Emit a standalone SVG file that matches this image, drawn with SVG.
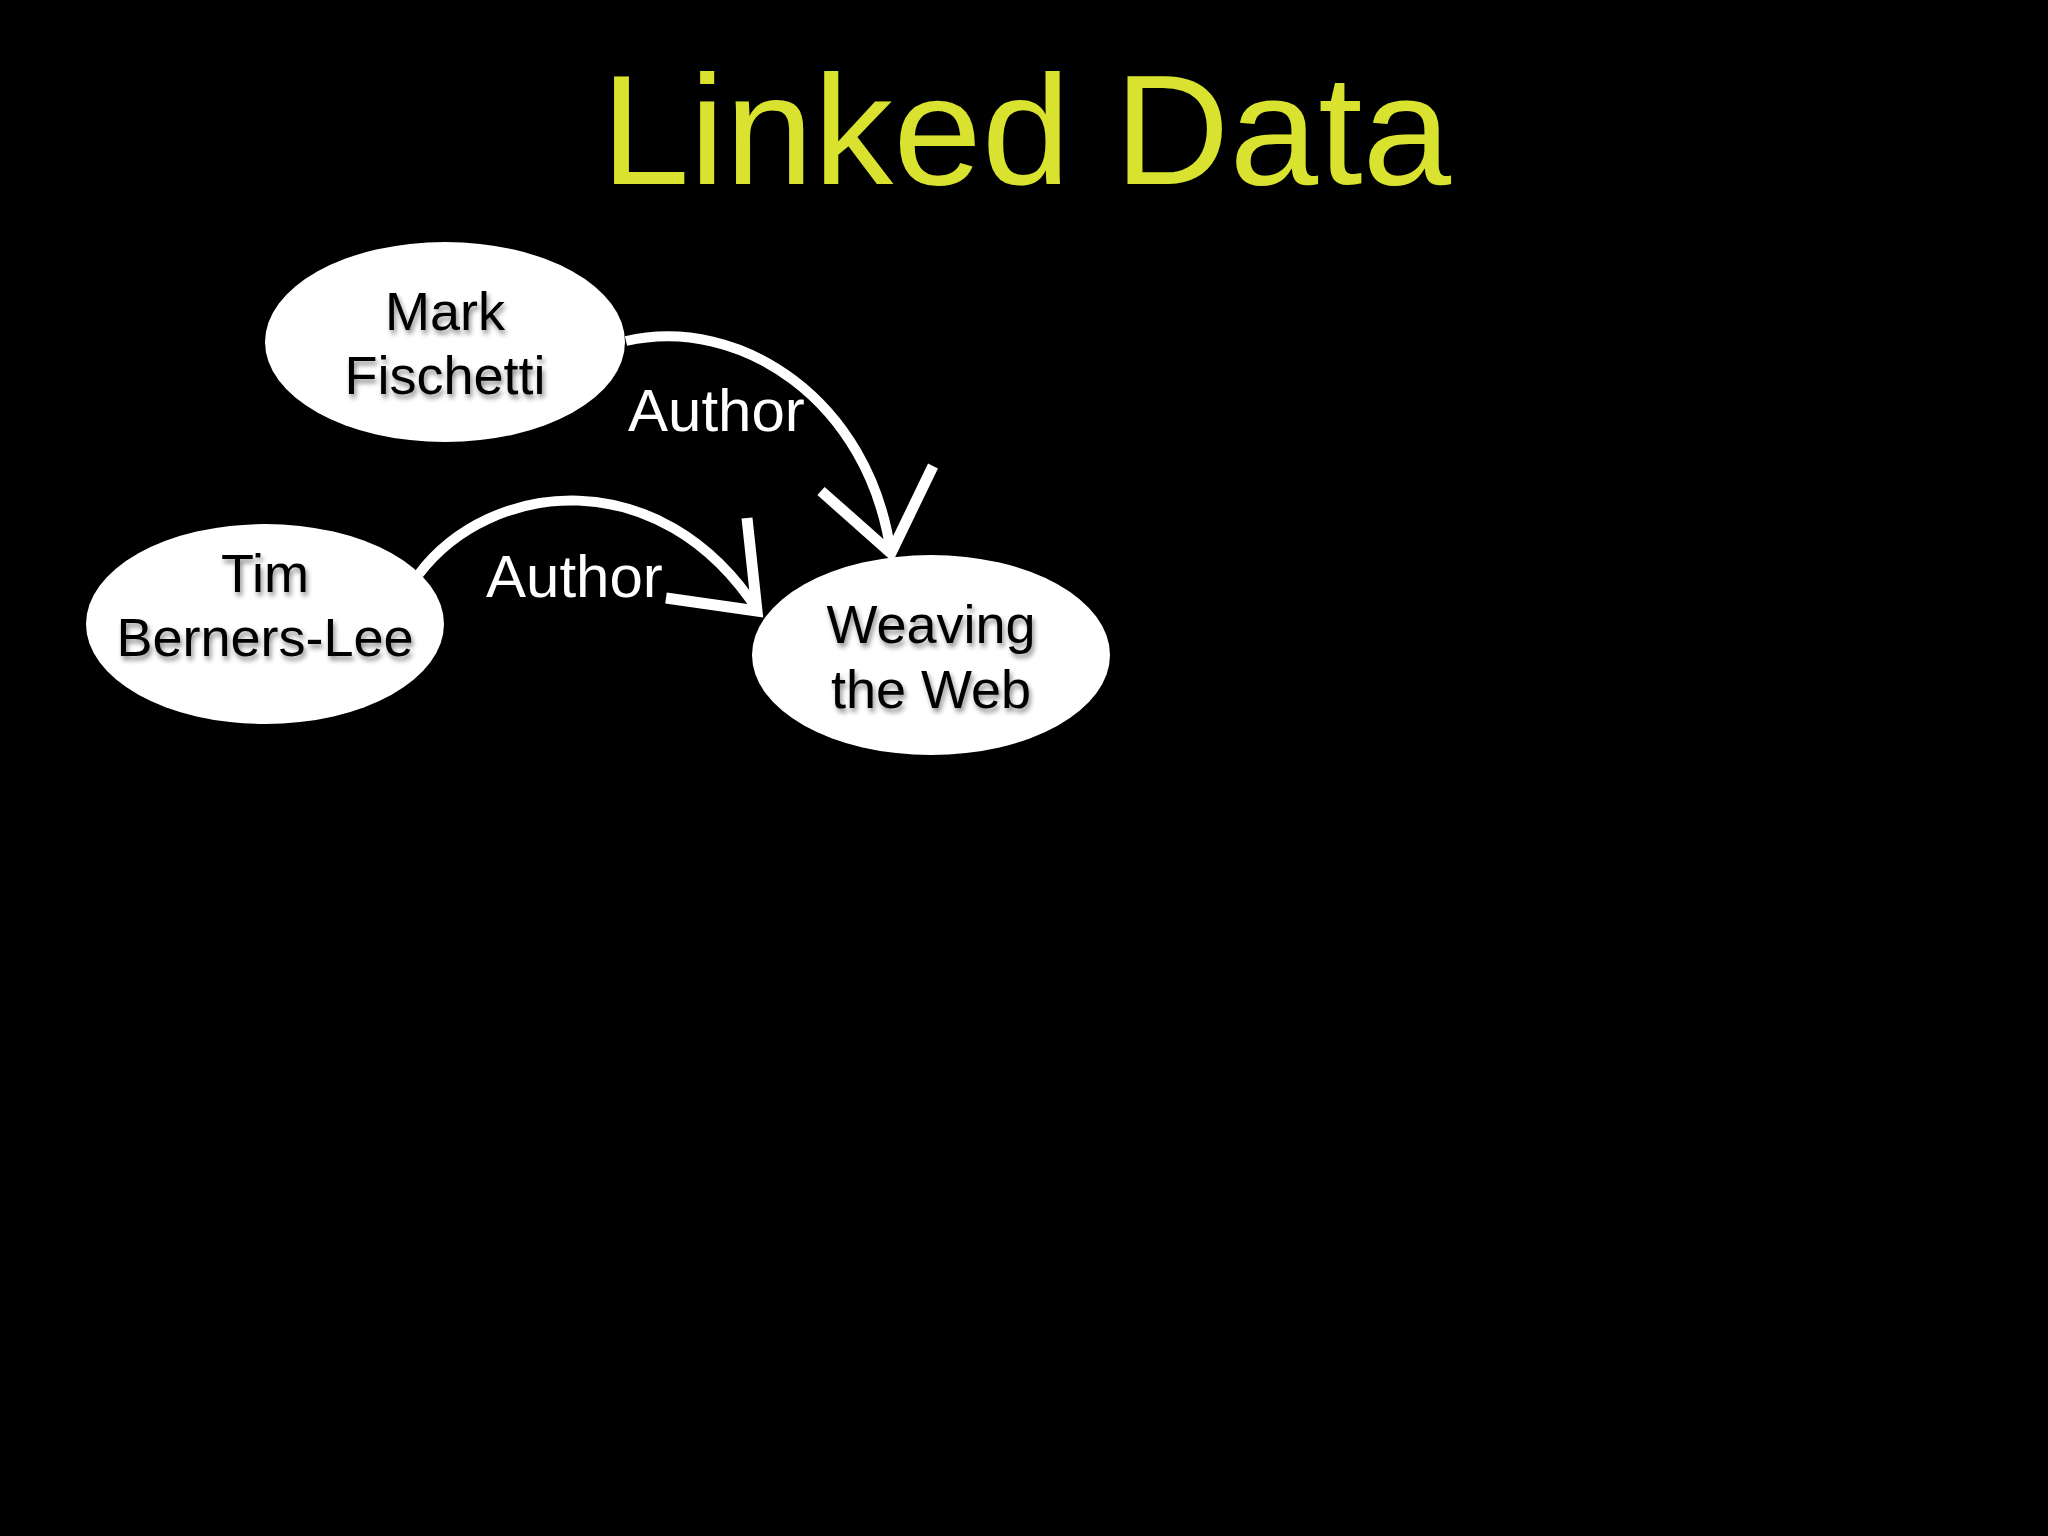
<svg xmlns="http://www.w3.org/2000/svg" width="2048" height="1536" viewBox="0 0 2048 1536">
<defs>
<filter id="sh" x="-20%" y="-20%" width="140%" height="150%">
<feDropShadow dx="2" dy="4" stdDeviation="2.5" flood-color="#000" flood-opacity="0.45"/>
</filter>
<style>
.node{fill:#fff}
.nt{font-family:"Liberation Sans",Arial,sans-serif;font-size:54px;fill:#000;text-anchor:middle}
.lbl{font-family:"Liberation Sans",Arial,sans-serif;font-size:60px;fill:#fff}
.edge{fill:none;stroke:#fff;stroke-width:10}
.head{fill:none;stroke:#fff;stroke-width:11;stroke-linejoin:miter;stroke-miterlimit:10}
</style>
</defs>
<rect width="2048" height="1536" fill="#000"/>
<text x="1026" y="184" font-family="'Liberation Sans',Arial,sans-serif" font-size="156" fill="#d9e22e" text-anchor="middle" textLength="850" lengthAdjust="spacingAndGlyphs">Linked Data</text>
<g id="connectors">
<path class="edge" d="M626 341 C740 315 870 400 891 554"/>
<path class="head" d="M821 491 L891 553 L933 466"/>
<text class="lbl" x="628" y="431">Author</text>
<path class="edge" d="M419 574 C490 480 660 460 758 611"/>
<path class="head" d="M747 518 L757 611 L666 598"/>
<text class="lbl" x="486" y="597">Author</text>
</g>
<g id="mark">
<ellipse class="node" cx="445" cy="342" rx="180" ry="100"/>
<g filter="url(#sh)"><text class="nt" x="445" y="330">Mark</text><text class="nt" x="445" y="394">Fischetti</text></g>
</g>
<g id="tim">
<ellipse class="node" cx="265" cy="624" rx="179" ry="100"/>
<g filter="url(#sh)"><text class="nt" x="265" y="592">Tim</text><text class="nt" x="265" y="656">Berners-Lee</text></g>
</g>
<g id="weaving">
<ellipse class="node" cx="931" cy="655" rx="179" ry="100"/>
<g filter="url(#sh)"><text class="nt" x="931" y="643">Weaving</text><text class="nt" x="931" y="708">the Web</text></g>
</g>
</svg>
